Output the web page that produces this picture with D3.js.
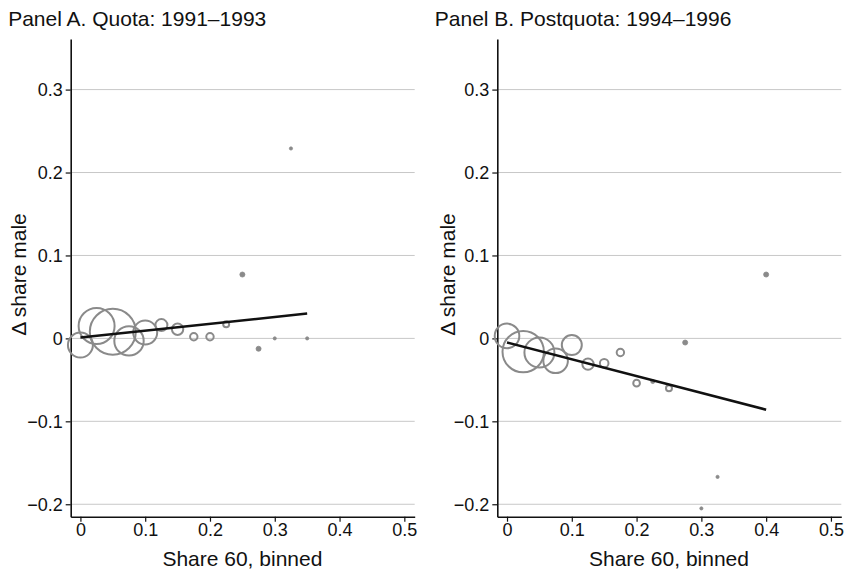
<!DOCTYPE html>
<html>
<head>
<meta charset="utf-8">
<script src="https://cdn.jsdelivr.net/npm/d3@7"></script>
<style>
  body { margin: 0; background: #fff; }
  svg { font-family: "Liberation Sans", Arial, Helvetica, sans-serif; }
</style>
</head>
<body>
<script>
// Panel A : Quota 1991-1993
const shareA  = [0, 0.025, 0.05, 0.075, 0.1, 0.125, 0.15, 0.175, 0.2, 0.225, 0.25, 0.275, 0.3, 0.325, 0.35];
const deltaA  = [-0.008, 0.015, 0.008, -0.003, 0.007, 0.016, 0.011, 0.002, 0.002, 0.017, 0.077, -0.0125, 0, 0.229, 0];
const poidsA  = [295, 612, 1000, 408, 272, 68, 61, 26, 26, 17, 12, 12, 4, 4, 4];
const ligneA  = [[0, 0.001], [0.35, 0.030]];

// Panel B : Postquota 1994-1996
const shareB  = [0, 0.025, 0.05, 0.075, 0.1, 0.125, 0.15, 0.175, 0.2, 0.225, 0.25, 0.275, 0.3, 0.325, 0.4];
const deltaB  = [0.003, -0.016, -0.017, -0.027, -0.008, -0.031, -0.030, -0.017, -0.054, -0.052, -0.060, -0.005, -0.205, -0.167, 0.077];
const poidsB  = [286, 810, 425, 286, 189, 61, 35, 26, 21, 8, 17, 12, 4, 3, 12];
const ligneB  = [[0, -0.005], [0.4, -0.086]];

const titres = ["Panel A. Quota: 1991\u20131993", "Panel B. Postquota: 1994\u20131996"];
const xTicks = [0, 0.1, 0.2, 0.3, 0.4, 0.5];
const yTicks = [-0.2, -0.1, 0, 0.1, 0.2, 0.3];

const largeur = 846, hauteur = 572;

let svg = d3.select("body").append("svg")
    .attr("width", largeur)
    .attr("height", hauteur);

// taille des cercles : aire proportionnelle au poids
let echelleR = d3.scaleSqrt().domain([0, 1000]).range([0, 23]);
const seuilPlein = 2.8;

const fmt = d => d === 0 ? "0" : d3.format(".1f")(d).replace("-", "\u2212");

function panneau(x0, decalLabel, titre, share, delta, poids, ligne) {
    let g = svg.append("g");

    let echelleX = d3.scaleLinear().domain([-0.015, 0.516]).range([x0, x0 + 344]);
    let echelleY = d3.scaleLinear().domain([-0.215, 0.361]).range([516.7, 39]);

    // titre du panneau
    g.append("text")
        .attr("x", x0 - 62.5)
        .attr("y", 26)
        .attr("font-size", 21)
        .attr("fill", "#111")
        .text(titre);

    // grille
    g.append("g").selectAll("line").data(yTicks).enter()
        .append("line")
        .attr("x1", x0).attr("x2", x0 + 344)
        .attr("y1", d => echelleY(d)).attr("y2", d => echelleY(d))
        .attr("stroke", "#c8c8c8")
        .attr("stroke-width", 1);

    // axes
    let axeY = d3.axisLeft(echelleY).tickValues(yTicks).tickFormat(fmt).tickSize(5).tickPadding(3).tickSizeOuter(0);
    let gy = g.append("g").attr("transform", "translate(" + x0 + ",0)").call(axeY);
    gy.selectAll("text").attr("font-size", 18).attr("fill", "#111");

    let axeX = d3.axisBottom(echelleX).tickValues(xTicks).tickFormat(fmt).tickSize(5).tickPadding(2).tickSizeOuter(0);
    let gx = g.append("g").attr("transform", "translate(0,516.7)").call(axeX);
    gx.selectAll("text").attr("font-size", 18).attr("fill", "#111");

    [gx, gy].forEach(a => {
        a.select(".domain").attr("stroke", "#111").attr("stroke-width", 1.6);
        a.selectAll(".tick line").attr("stroke", "#111").attr("stroke-width", 1.2);
    });

    // titres des axes
    g.append("text")
        .attr("x", echelleX(0.25))
        .attr("y", 566)
        .attr("text-anchor", "middle")
        .attr("font-size", 21)
        .attr("fill", "#111")
        .text("Share 60, binned");

    g.append("text")
        .attr("transform", "translate(" + (x0 - decalLabel) + "," + echelleY(0.077) + ") rotate(-90)")
        .attr("text-anchor", "middle")
        .attr("font-size", 21)
        .attr("fill", "#111")
        .text("\u0394 share male");

    // cercles pondérés (les tout petits paraissent pleins)
    let points = share.map((s, i) => ({ x: s, y: delta[i], n: poids[i] }));
    g.append("g").selectAll("circle").data(points).enter()
        .append("circle")
        .attr("cx", d => echelleX(d.x))
        .attr("cy", d => echelleY(d.y))
        .attr("r", d => echelleR(d.n) < seuilPlein ? Math.max(1.6, echelleR(d.n)) : echelleR(d.n))
        .attr("fill", d => echelleR(d.n) < seuilPlein ? "#8a8a8a" : "none")
        .attr("stroke", "#8a8a8a")
        .attr("stroke-width", d => echelleR(d.n) < seuilPlein ? 0.8 : 2);

    // droite de régression
    g.append("path")
        .datum(ligne)
        .attr("d", d3.line().x(d => echelleX(d[0])).y(d => echelleY(d[1])))
        .attr("stroke", "#111")
        .attr("stroke-width", 2.5)
        .attr("fill", "none");
}

panneau(70.7, 45, titres[0], shareA, deltaA, poidsA, ligneA);
panneau(497.3, 42, titres[1], shareB, deltaB, poidsB, ligneB);
</script>
</body>
</html>
